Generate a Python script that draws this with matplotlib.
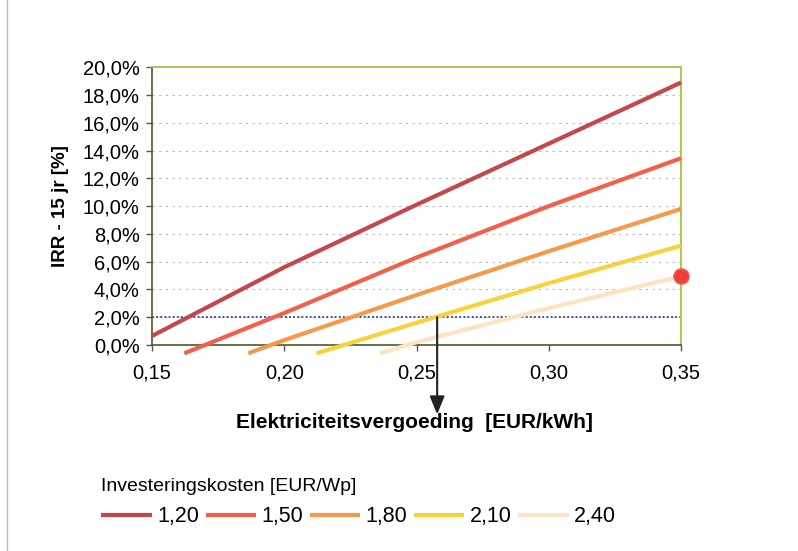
import matplotlib
matplotlib.use("Agg")
import matplotlib.pyplot as plt
from matplotlib.ticker import FuncFormatter, MultipleLocator

plt.rcParams['font.family'] = ['Liberation Sans', 'DejaVu Sans']

# IRR (15 years) versus electricity tariff, per investment cost level
labels = ["1,20", "1,50", "1,80", "2,10", "2,40"]
x_120 = [0.15, 0.20, 0.25, 0.30, 0.35]
y_120 = [0.65, 5.6, 10.1, 14.5, 18.9]
x_150 = [0.1622, 0.20, 0.25, 0.30, 0.35]
y_150 = [-0.6, 2.3, 6.3, 10.0, 13.45]
x_180 = [0.1864, 0.20, 0.25, 0.30, 0.35]
y_180 = [-0.6, 0.35, 3.6, 6.75, 9.8]
x_210 = [0.2122, 0.25, 0.30, 0.35]
y_210 = [-0.6, 1.6, 4.45, 7.15]
x_240 = [0.2362, 0.25, 0.30, 0.35]
y_240 = [-0.6, 0.2, 2.65, 4.95]

target_irr = 2.0          # reference return level
marked_x, marked_y = 0.35, 5.0
arrow_x = 0.2578

series = [(x_120, y_120), (x_150, y_150), (x_180, y_180), (x_210, y_210), (x_240, y_240)]
colors = ["#c4474a", "#f2604a", "#f5994c", "#f9d23a", "#fde3c0"]

fig = plt.figure(figsize=(7.98, 5.51), dpi=100)
ax = fig.add_axes([0.1905, 0.3739, 0.6629, 0.504])

for y in range(2, 20, 2):
    ax.axhline(y, color="#b8b8b8", lw=0.8, ls=(0, (2, 4)), zorder=1)

ax.axhline(target_irr, color="#2b3a8c", lw=1.3, ls=(0, (1, 1.3)), zorder=2)

for (xs, ys), c, lab in zip(series, colors, labels):
    ax.plot(xs, ys, color=c, lw=3, solid_capstyle="butt", solid_joinstyle="round",
            label=lab, clip_on=False, zorder=3)

ax.plot([marked_x], [marked_y], "o", ms=11, color="#ef3e3e", mec="#f06060",
        clip_on=False, zorder=5)

ax.annotate("", xy=(arrow_x, -5.0), xytext=(arrow_x, target_irr),
            xycoords="data", textcoords="data",
            arrowprops=dict(arrowstyle="-|>,head_length=1.1,head_width=0.45",
                            color="#222222", lw=1.5, shrinkA=0, shrinkB=0),
            annotation_clip=False, zorder=6)

ax.set_xlim(0.15, 0.35)
ax.set_ylim(0, 20)
ax.xaxis.set_major_locator(MultipleLocator(0.05))
ax.yaxis.set_major_locator(MultipleLocator(2))
ax.xaxis.set_major_formatter(FuncFormatter(lambda v, p: f"{v:.2f}".replace(".", ",")))
ax.yaxis.set_major_formatter(FuncFormatter(lambda v, p: f"{v:.1f}%".replace(".", ",")))
ax.tick_params(axis="both", labelsize=14.5, direction="out", length=4,
               width=1, color="#555555", pad=5)
ax.tick_params(axis="x", pad=9)

for side in ("left", "bottom"):
    ax.spines[side].set_color("#4d5a2c")
    ax.spines[side].set_linewidth(1.2)
for side in ("top", "right"):
    ax.spines[side].set_color("#a9cc3e")
    ax.spines[side].set_linewidth(1.4)

ax.set_ylabel("IRR - 15 jr [%]", fontsize=13.5, fontweight="bold", labelpad=10)
fig.text(414 / 798, 1 - 423 / 551, "Elektriciteitsvergoeding  [EUR/kWh]",
         ha="center", va="center", fontsize=15, fontweight="bold")

leg = fig.legend(loc="upper left", bbox_to_anchor=(84 / 798, 1 - 461 / 551),
                 ncol=5, frameon=False, fontsize=15.5, title="Investeringskosten [EUR/Wp]",
                 title_fontsize=14, handlelength=2.35, handletextpad=0.25,
                 columnspacing=0.3, labelspacing=0.3, borderpad=0.3)
leg._legend_box.align = "left"
leg._legend_box.sep = 8
for h in leg.legend_handles:
    h.set_linewidth(3)

# scan border on the left edge
fig.add_artist(plt.Line2D([7 / 798, 7 / 798], [0, 1], color="#bbbbbb", lw=1))

fig.savefig("out.png", dpi=100, facecolor="white")
